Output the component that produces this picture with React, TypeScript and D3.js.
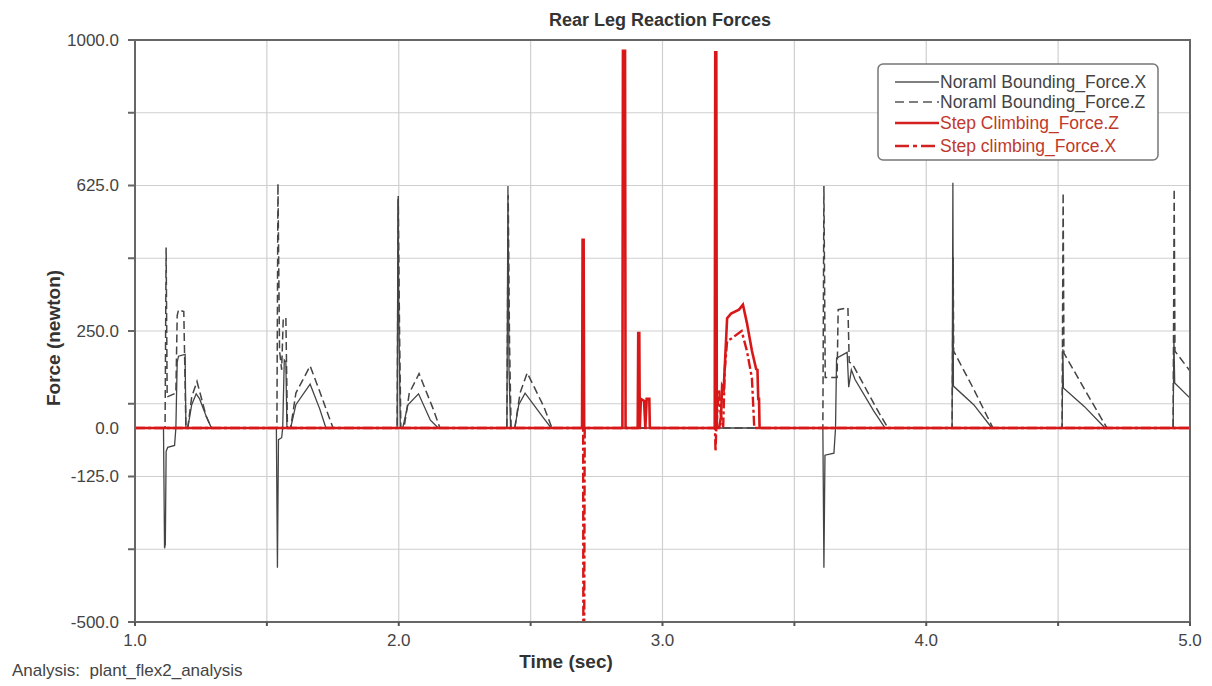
import React from 'react';
import * as d3 from 'd3';

type Pt = [number, number];

// time (sec), force (newton)
const normalForceX: Pt[] = [
  [1.0, 0], [1.108, 0], [1.112, -310], [1.115, -300], [1.118, -60], [1.124, -50], [1.15, -45], [1.155, 0],
  [1.16, 170], [1.165, 185], [1.19, 190], [1.193, 0], [1.2, 0], [1.215, 60], [1.232, 88], [1.245, 75], [1.27, 30], [1.29, 0],
  [1.536, 0], [1.54, -360], [1.544, -30], [1.556, -25], [1.56, 0], [1.566, 175], [1.572, 170], [1.576, 0], [1.59, 0],
  [1.61, 60], [1.664, 113], [1.7, 50], [1.724, 0],
  [1.994, 0], [1.997, 590], [2.0, 300], [2.006, 0], [2.015, 0], [2.035, 60], [2.075, 88], [2.12, 20], [2.15, 0],
  [2.41, 0], [2.414, 624], [2.418, 150], [2.424, 0], [2.44, 0], [2.455, 60], [2.479, 90], [2.55, 25], [2.578, 0],
  [3.608, 0], [3.612, -360], [3.616, -70], [3.65, -65], [3.656, 0], [3.66, 180], [3.7, 195], [3.706, 105],
  [3.716, 150], [3.73, 125], [3.8, 45], [3.844, 0],
  [4.098, 0], [4.101, 632], [4.103, 108], [4.18, 60], [4.249, 0],
  [4.515, 0], [4.518, 203], [4.52, 103], [4.6, 55], [4.678, 0],
  [4.936, 0], [4.939, 232], [4.942, 116], [5.0, 77],
];

const normalForceZ: Pt[] = [
  [1.0, 0], [1.114, 0], [1.118, 465], [1.122, 80], [1.155, 90], [1.16, 290], [1.165, 305], [1.185, 300], [1.193, 0],
  [1.2, 0], [1.215, 80], [1.235, 120], [1.27, 30], [1.29, 0],
  [1.538, 0], [1.542, 630], [1.548, 200], [1.556, 150], [1.562, 280], [1.572, 285], [1.578, 0], [1.59, 0],
  [1.61, 90], [1.664, 160], [1.7, 95], [1.74, 20], [1.751, 0],
  [1.994, 0], [1.998, 598], [2.003, 250], [2.008, 0], [2.02, 0], [2.04, 90], [2.077, 140], [2.13, 50], [2.156, 0],
  [2.41, 0], [2.415, 600], [2.42, 220], [2.426, 0], [2.44, 0], [2.46, 90], [2.487, 142], [2.55, 55], [2.581, 0],
  [3.608, 0], [3.612, 624], [3.617, 130], [3.662, 130], [3.666, 305], [3.703, 310], [3.708, 170], [3.72, 165],
  [3.82, 40], [3.855, 0],
  [4.098, 0], [4.102, 440], [4.104, 198], [4.18, 100], [4.253, 0],
  [4.515, 0], [4.519, 606], [4.522, 193], [4.6, 100], [4.685, 0],
  [4.936, 0], [4.94, 616], [4.943, 198], [5.0, 147],
];

const stepForceZ: Pt[] = [
  [1.0, 0], [2.695, 0], [2.697, 485], [2.701, 485], [2.703, 0], [2.848, 0], [2.85, 972], [2.858, 972], [2.86, 0],
  [2.906, 0], [2.908, 245], [2.912, 245], [2.914, 0], [2.918, 75], [2.93, 70], [2.935, 0], [2.94, 75], [2.95, 75],
  [2.952, 0], [3.198, 0], [3.2, 968], [3.204, 968], [3.206, 0], [3.215, 0], [3.222, 30], [3.226, 108], [3.232, 100],
  [3.245, 283], [3.26, 295], [3.29, 305], [3.305, 318], [3.32, 271], [3.339, 199], [3.355, 152], [3.36, 150],
  [3.363, 75], [3.366, 75], [3.368, 0], [5.0, 0],
];

const stepForceX: Pt[] = [
  [1.0, 0], [2.697, 0], [2.699, 100], [2.7, -560], [2.703, -560], [2.705, 0],
  [3.199, 0], [3.201, -60], [3.204, 0], [3.21, 60], [3.215, 100], [3.22, 40], [3.23, 0], [3.236, 150],
  [3.245, 224], [3.26, 230], [3.3, 250], [3.32, 199], [3.339, 129], [3.348, 0], [5.0, 0],
];

const yTicks = [1000, 812.5, 625, 437.5, 250, 62.5, 0, -125, -312.5, -500];
const yTickLabels = [1000, 625, 250, 0, -125, -500];
const xTicks = [1.0, 1.5, 2.0, 2.5, 3.0, 3.5, 4.0, 4.5, 5.0];
const xTickLabels = [1.0, 2.0, 3.0, 4.0, 5.0];

const legendItems = [
  { label: 'Noraml Bounding_Force.X', color: '#555', text: '#444', dash: '', width: 1.4 },
  { label: 'Noraml Bounding_Force.Z', color: '#555', text: '#444', dash: '9,5', width: 1.4 },
  { label: 'Step Climbing_Force.Z', color: '#d42020', text: '#c0392b', dash: '', width: 2.6 },
  { label: 'Step climbing_Force.X', color: '#d42020', text: '#c0392b', dash: '14,4,4,4', width: 2.6 },
];

const W = 1212, H = 686;
const left = 135, right = 1190, top = 40, bottom = 622;
const font = '"Liberation Sans", Arial, sans-serif';
const fmt = (v: number) => v.toFixed(1);

export default function App() {
  const x = d3.scaleLinear().domain([1, 5]).range([left, right]);
  const y = d3.scaleLinear().domain([-500, 1000]).range([bottom, top]);
  const line = d3.line<Pt>().x(d => x(d[0])).y(d => y(d[1]));
  const gridY = yTicks.filter(v => v !== 0 && v !== 1000 && v !== -500);

  return (
    <svg width={W} height={H} style={{ position: 'absolute', left: 0, top: 0, background: '#fff' }}>
      <defs>
        <clipPath id="plot">
          <rect x={left} y={top} width={right - left} height={bottom - top} />
        </clipPath>
      </defs>

      <text x={660} y={26} textAnchor="middle" fontFamily={font} fontWeight="bold" fontSize={18} fill="#333">
        Rear Leg Reaction Forces
      </text>

      {/* grid */}
      {gridY.map(v => (
        <line key={'gy' + v} x1={left} x2={right} y1={y(v)} y2={y(v)} stroke="#cfcfcf" strokeWidth={1.2} />
      ))}
      {xTicks.slice(1, -1).map(v => (
        <line key={'gx' + v} x1={x(v)} x2={x(v)} y1={top} y2={bottom} stroke="#cfcfcf" strokeWidth={1.2} />
      ))}

      {/* series */}
      <g clipPath="url(#plot)" fill="none">
        <path d={line(normalForceX) || ''} stroke="#444" strokeWidth={1.3} />
        <path d={line(normalForceZ) || ''} stroke="#444" strokeWidth={1.5} strokeDasharray="8,4" />
        <path d={line(stepForceX) || ''} stroke="#d81818" strokeWidth={2.4} strokeDasharray="10,3,3,3" />
        <path d={line(stepForceZ) || ''} stroke="#d81818" strokeWidth={2.6} />
      </g>

      {/* frame */}
      <rect x={left} y={top} width={right - left} height={bottom - top} fill="none" stroke="#666" strokeWidth={2} />

      {/* y axis */}
      {yTicks.filter(v => v !== 0).map(v => (
        <line key={'ty' + v} x1={left - 7} x2={left} y1={y(v)} y2={y(v)} stroke="#666" strokeWidth={2} />
      ))}
      {yTickLabels.map(v => (
        <text key={'ly' + v} x={left - 16} y={y(v)} dy="0.35em" textAnchor="end" fontFamily={font} fontSize={17} fill="#444">
          {fmt(v)}
        </text>
      ))}

      {/* x axis */}
      {xTicks.map(v => (
        <line key={'tx' + v} x1={x(v)} x2={x(v)} y1={bottom} y2={bottom + 4} stroke="#555" strokeWidth={2} />
      ))}
      {xTickLabels.map(v => (
        <text key={'lx' + v} x={x(v)} y={bottom + 24} textAnchor="middle" fontFamily={font} fontSize={17} fill="#444">
          {fmt(v)}
        </text>
      ))}

      <text x={566} y={668} textAnchor="middle" fontFamily={font} fontWeight="bold" fontSize={19} fill="#333">
        Time (sec)
      </text>
      <text transform="translate(60,338) rotate(-90)" textAnchor="middle" fontFamily={font} fontWeight="bold" fontSize={19} fill="#333">
        Force (newton)
      </text>
      <text x={12} y={676} fontFamily={font} fontSize={17} fill="#444">
        Analysis:{'\u00a0\u00a0'}plant_flex2_analysis
      </text>

      {/* legend */}
      <rect x={878} y={64} width={280} height={96} rx={5} fill="#fff" stroke="#777" strokeWidth={1.5} />
      {legendItems.map((d, i) => {
        const cy = [82, 102, 123, 146][i];
        return (
          <g key={d.label}>
            <line x1={895} x2={939} y1={cy} y2={cy} stroke={d.color} strokeWidth={d.width} strokeDasharray={d.dash} />
            <text x={940} y={cy} dy="0.35em" fontFamily={font} fontSize={17.5} fill={d.text}>{d.label}</text>
          </g>
        );
      })}
    </svg>
  );
}
